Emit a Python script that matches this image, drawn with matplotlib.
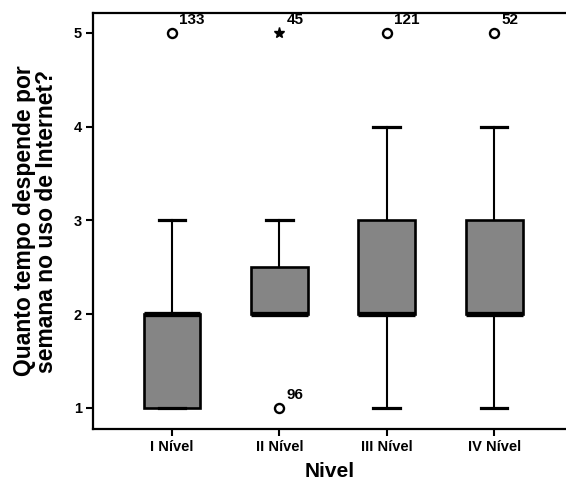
import matplotlib
matplotlib.use("Agg")
import matplotlib.pyplot as plt

plt.rcParams["font.family"] = ["Liberation Sans", "DejaVu Sans"]
plt.rcParams["font.weight"] = "bold"
plt.rcParams["axes.labelweight"] = "bold"

# box summaries
levels = ["I Nível", "II Nível", "III Nível", "IV Nível"]
q1 = [1, 2, 2, 2]
medians = [2, 2, 2, 2]
q3 = [2, 2.5, 3, 3]
whislo = [1, 2, 1, 1]
whishi = [3, 3, 4, 4]

# outliers (circles) and extremes (stars) with their case numbers
out_values = [[5], [1], [5], [5]]
out_ids = [["133"], ["96"], ["121"], ["52"]]
ext_values = [[], [5], [], []]
ext_ids = [[], ["45"], [], []]

stats = []
for i in range(len(levels)):
    stats.append({"q1": q1[i], "med": medians[i], "q3": q3[i],
                  "whislo": whislo[i], "whishi": whishi[i], "fliers": []})

fig = plt.figure(figsize=(5.66, 4.96), dpi=100)
ax = fig.add_axes([93 / 566, 1 - 429 / 496, 1 - 93 / 566, (429 - 13) / 496])

positions = list(range(1, len(levels) + 1))
ax.bxp(stats, positions=positions, widths=0.53, capwidths=0.25,
       showfliers=False, patch_artist=True,
       boxprops=dict(facecolor="#858585", edgecolor="black", linewidth=1.9),
       medianprops=dict(color="black", linewidth=3.8, solid_capstyle="butt"),
       whiskerprops=dict(color="black", linewidth=1.5),
       capprops=dict(color="black", linewidth=2.3))

for i, p in enumerate(positions):
    for v, cid in zip(out_values[i], out_ids[i]):
        ax.plot(p, v, "o", ms=6.5, mfc="white", mec="black", mew=1.7, clip_on=False)
        ax.annotate(cid, (p, v), xytext=(5, 4), textcoords="offset points",
                    ha="left", va="bottom", fontsize=11)
    for v, cid in zip(ext_values[i], ext_ids[i]):
        ax.plot(p, v, "*", ms=8, color="black", clip_on=False)
        ax.annotate(cid, (p, v), xytext=(5, 4), textcoords="offset points",
                    ha="left", va="bottom", fontsize=11)

ax.set_xlim(0.264, 4.67)
ax.set_ylim(0.776, 5.213)
ax.set_xticks(positions)
ax.set_xticklabels(levels, fontsize=10.5)
ax.set_yticks([1, 2, 3, 4, 5])
ax.set_yticklabels(["1", "2", "3", "4", "5"], fontsize=10.5)
ax.tick_params(length=5, width=1.5, pad=3)
for s in ["left", "bottom", "top"]:
    ax.spines[s].set_linewidth(1.6)
ax.spines["right"].set_visible(False)

ax.set_xlabel("Nivel", fontsize=15, fontweight="bold", labelpad=6)
ax.set_ylabel("Quanto tempo despende por\nsemana no uso de Internet?",
              fontsize=16.5, fontweight="bold", labelpad=11, linespacing=0.95)

fig.savefig("out.png", dpi=100)
